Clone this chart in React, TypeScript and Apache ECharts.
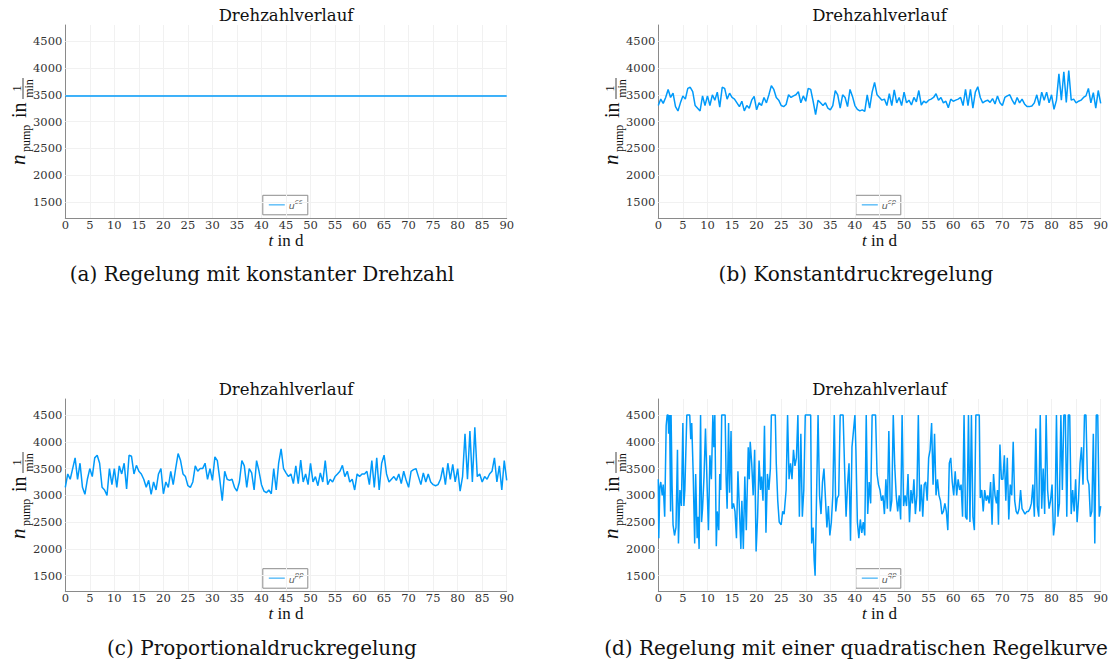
import React, { useEffect, useRef } from "react";
import * as echarts from "echarts";

// ---------- data ----------
const xTicks = [0, 5, 10, 15, 20, 25, 30, 35, 40, 45, 50, 55, 60, 65, 70, 75, 80, 85, 90];
const yTicks = [1500, 2000, 2500, 3000, 3500, 4000, 4500];
const chartTitle = "Drehzahlverlauf";
const captions = [
  "(a) Regelung mit konstanter Drehzahl",
  "(b) Konstantdruckregelung",
  "(c) Proportionaldruckregelung",
  "(d) Regelung mit einer quadratischen Regelkurve",
];
const legendSup = ["cs", "cp", "pp", "qp"];

// (a) constant speed
const tA = [0, 90];
const uA = [3478, 3478];

// (b) and (c): sampled every half day from t = 0 to t = 90
const tStepBC = 0.5;
const uB = [
  3300, 3420, 3340, 3450, 3600, 3450, 3530, 3280, 3200, 3350, 3480, 3420, 3620, 3640, 3560, 3300, 3250, 3200, 3480, 3300,
  3480, 3300, 3500, 3400, 3550, 3270, 3640, 3620, 3420, 3530, 3450, 3420, 3350, 3280, 3380, 3200, 3300, 3250, 3400, 3470,
  3220, 3350, 3300, 3450, 3350, 3500, 3670, 3600, 3450, 3400, 3300, 3280, 3320, 3500, 3450, 3480, 3500, 3560, 3350, 3480,
  3380, 3620, 3600, 3380, 3130, 3400, 3350, 3300, 3350, 3250, 3220, 3300, 3580, 3500, 3250, 3500, 3450, 3280, 3600, 3470,
  3300, 3230, 3200, 3220, 3190, 3500, 3250, 3550, 3730, 3500, 3450, 3400, 3420, 3300, 3520, 3300, 3590, 3350, 3450, 3300,
  3550, 3350, 3400, 3310, 3450, 3370, 3580, 3310, 3380, 3350, 3400, 3420, 3450, 3520, 3400, 3450, 3350, 3380, 3260, 3420,
  3380, 3400, 3420, 3450, 3300, 3600, 3300, 3600, 3250, 3550, 3650, 3450, 3350, 3380, 3400, 3360, 3430, 3330, 3480, 3350,
  3300, 3450, 3480, 3500, 3400, 3320, 3450, 3350, 3420, 3330, 3280, 3280, 3290, 3350, 3500, 3300, 3550, 3400, 3550, 3350,
  3500, 3230, 3400, 3890, 3400, 3930, 3360, 3950, 3400, 3420, 3350, 3380, 3400, 3450, 3480, 3620, 3350, 3540, 3250, 3580,
  3340,
];
const uC = [
  3150, 3400, 3300, 3500, 3700, 3300, 3600, 3150, 3020, 3300, 3500, 3350, 3700, 3750, 3600, 3150, 3100, 3000, 3500, 3200,
  3500, 3150, 3550, 3400, 3600, 3120, 3750, 3730, 3400, 3560, 3450, 3400, 3300, 3150, 3280, 3020, 3250, 3100, 3400, 3500,
  3030, 3250, 3150, 3450, 3200, 3500, 3780, 3650, 3400, 3350, 3180, 3150, 3250, 3550, 3450, 3500, 3500, 3600, 3300, 3500,
  3280, 3720, 3650, 3300, 2900, 3450, 3300, 3280, 3300, 3150, 3080, 3250, 3650, 3550, 3150, 3500, 3420, 3100, 3650, 3450,
  3200, 3080, 3050, 3100, 3030, 3500, 3100, 3600, 3870, 3500, 3420, 3350, 3400, 3220, 3550, 3220, 3660, 3250, 3400, 3200,
  3600, 3250, 3350, 3180, 3420, 3250, 3650, 3200, 3300, 3250, 3350, 3400, 3450, 3560, 3350, 3450, 3250, 3300, 3100, 3400,
  3350, 3400, 3400, 3450, 3200, 3650, 3150, 3700, 3100, 3600, 3750, 3400, 3250, 3300, 3350, 3280, 3400, 3220, 3450, 3280,
  3150, 3450, 3480, 3500, 3350, 3200, 3420, 3250, 3400, 3250, 3200, 3180, 3200, 3300, 3520, 3200, 3600, 3300, 3580, 3250,
  3500, 3080, 3350, 4150, 3300, 4200, 3250, 4270, 3350, 3400, 3250, 3350, 3300, 3400, 3450, 3700, 3250, 3550, 3100, 3650,
  3280,
];

// (d) quadratic control curve
const tD = [
  0, 0.1, 0.3, 0.5, 0.8, 1.0, 1.3, 1.6, 1.8, 2.0, 2.1, 2.3, 2.5, 2.6, 2.8, 3.0, 3.3, 3.6, 3.9, 4.1,
  4.4, 4.7, 5.0, 5.2, 5.4, 5.6, 5.8, 6.4, 6.6, 6.8, 7.1, 7.4, 7.6, 7.9, 8.1, 8.3, 8.6, 8.8, 9.0, 9.3,
  9.6, 9.8, 10.0, 10.2, 10.5, 10.8, 11.1, 11.3, 11.5, 11.8, 12.0, 12.3, 12.5, 12.7, 12.9, 13.6, 13.8, 14.0, 14.3, 14.5,
  14.8, 15.0, 15.3, 15.6, 15.9, 16.2, 16.5, 16.8, 17.0, 17.3, 17.6, 17.9, 18.3, 18.5, 18.7, 19.0, 19.3, 19.6, 19.9, 20.2,
  20.5, 20.8, 21.0, 21.3, 21.6, 21.9, 22.2, 22.5, 22.8, 23.0, 23.8, 24.0, 24.3, 24.6, 25.0, 25.3, 25.6, 26.0, 26.3, 26.6,
  26.9, 27.2, 27.5, 27.8, 28.1, 28.4, 28.7, 29.0, 29.3, 29.6, 29.9, 31.0, 31.2, 31.5, 31.7, 31.9, 32.1, 32.5, 32.8, 33.1,
  33.4, 33.7, 34.0, 34.3, 34.6, 34.9, 35.2, 35.5, 35.8, 36.1, 36.4, 36.7, 37.0, 37.6, 37.9, 38.2, 38.5, 38.8, 39.1, 39.4,
  39.7, 40.0, 40.2, 40.5, 40.8, 41.1, 41.4, 41.7, 42.0, 42.3, 42.6, 42.9, 43.2, 43.5, 44.2, 44.5, 44.8, 45.1, 45.4, 45.7,
  46.0, 46.3, 46.6, 46.9, 47.2, 47.5, 47.8, 48.1, 48.4, 48.7, 49.0, 49.3, 49.6, 49.9, 50.2, 50.5, 50.8, 51.1, 51.4, 51.7,
  52.0, 52.3, 52.6, 52.9, 53.2, 53.5, 53.8, 54.1, 54.4, 54.7, 55.0, 55.3, 55.6, 55.9, 56.2, 56.5, 56.8, 57.1, 57.4, 57.7,
  58.0, 58.3, 58.6, 58.9, 59.2, 59.5, 59.8, 60.1, 60.4, 60.7, 61.0, 61.3, 61.6, 61.9, 62.2, 62.5, 62.8, 63.1, 63.4, 63.7,
  64.0, 64.3, 64.6, 65.3, 65.5, 65.8, 66.1, 66.4, 66.7, 67.0, 67.3, 67.6, 67.9, 68.2, 68.5, 68.8, 69.0, 69.2, 69.5, 69.8,
  70.1, 70.4, 70.7, 71.0, 71.3, 71.6, 71.9, 72.2, 72.5, 72.8, 73.1, 73.4, 73.7, 74.0, 74.3, 74.6, 75.0, 75.3, 75.6, 75.9,
  76.2, 76.5, 76.8, 77.1, 77.4, 77.7, 78.0, 78.3, 78.6, 78.9, 79.2, 79.5, 79.8, 80.1, 80.4, 80.7, 81.0, 81.3, 81.6, 81.9,
  82.2, 82.5, 82.8, 83.1, 83.4, 83.7, 84.0, 84.3, 84.6, 84.9, 85.2, 85.5, 85.8, 86.1, 86.4, 86.7, 87.0, 87.3, 87.6, 87.9,
  88.2, 88.5, 88.8, 89.1, 89.4, 89.7, 90.0,
];
const uD = [
  3300, 2200, 3150, 3250, 3000, 3200, 2600, 4300, 4500, 4500, 4150, 4500, 2700, 4500, 3200, 2450, 2250, 2400, 3850, 2100,
  3100, 2800, 4350, 2800, 3100, 3800, 4500, 4500, 4050, 4350, 3400, 2100, 3400, 2200, 2600, 2000, 4500, 2500, 2750, 3350,
  4250, 3600, 2950, 2350, 3750, 3300, 4500, 3900, 4500, 2050, 2700, 2350, 3400, 3100, 4500, 4500, 3300, 2750, 4350, 3050,
  4200, 2750, 2850, 2700, 2200, 3450, 2750, 2000, 2900, 2000, 3350, 2350, 3900, 3300, 4000, 3600, 3000, 3850, 1950, 2600,
  3650, 3100, 3350, 2900, 4300, 2300, 3400, 3100, 3500, 4500, 4500, 3600, 2900, 2500, 2450, 2700, 2650, 3100, 4500, 3300,
  3600, 3300, 3850, 3550, 3700, 4500, 2600, 4150, 2600, 3100, 4500, 4500, 2100, 2400, 1800, 1500, 2500, 4500, 3000, 2650,
  3250, 3500, 2950, 2400, 2800, 2250, 2500, 3000, 4500, 2700, 2950, 3000, 4500, 4500, 3500, 2600, 3200, 3600, 2150, 3900,
  4200, 4500, 3850, 2500, 2200, 2550, 2300, 2500, 2250, 4500, 2650, 3250, 2850, 4500, 4500, 3400, 3200, 3100, 2900, 3000,
  2650, 3300, 2750, 4200, 2700, 2900, 4500, 3550, 3000, 2700, 3000, 2550, 4500, 2800, 3000, 2800, 3400, 2500, 3100, 2850,
  3300, 2650, 3000, 4500, 2700, 3200, 2600, 3200, 3250, 2900, 3700, 3850, 4350, 3200, 4150, 3000, 3300, 3000, 2900, 2650,
  2700, 2850, 2700, 2350, 3600, 3700, 3250, 3000, 3450, 3000, 3300, 3100, 3200, 2600, 4500, 2600, 2550, 4500, 2500, 4500,
  2600, 2350, 4500, 4500, 2950, 3100, 2700, 3100, 2900, 3000, 2850, 3250, 2450, 3400, 3000, 2850, 3100, 2450, 3950, 3300,
  3300, 3750, 2900, 3700, 2550, 3200, 3000, 4000, 2900, 2700, 2650, 2750, 3100, 2750, 2700, 2650, 2700, 2700, 2750, 2850,
  3200, 2600, 4250, 2800, 2600, 4500, 2750, 3500, 2650, 4500, 3100, 2750, 2900, 3200, 2250, 2500, 4500, 2600, 2850, 4500,
  3100, 4500, 4500, 2600, 4500, 4500, 2650, 3100, 2700, 3300, 2500, 2950, 3600, 3900, 3200, 4500, 4500, 3300, 3200, 2600,
  2700, 4150, 2100, 4500, 4500, 2600, 2800,
];

// ---------- layout / style ----------
const LINE_COLOR = "#009AFA";
const GRID_COLOR = "#f1f1f1";
const AXIS_COLOR = "#8a8a8a";
const TICK_FONT = "DejaVu Serif";
const MATH_FONT = "Liberation Serif";

const panels = [
  { left: 65.3, top: 25, width: 441.4, height: 193.3 },
  { left: 658.3, top: 25, width: 442.4, height: 193.3 },
  { left: 65.3, top: 399, width: 441.4, height: 192.7 },
  { left: 658.3, top: 399, width: 442.4, height: 192.7 },
];

function yLabel(px: number, py: number): any {
  // px: baseline screen x, py: start screen y (bottom end of the rotated label)
  return {
    type: "group",
    x: px,
    y: py,
    rotation: Math.PI / 2,
    silent: true,
    children: [
      { type: "text", x: 0, y: -7, style: { text: "n", font: `italic 21px "${MATH_FONT}"`, fill: "#111", align: "left", verticalAlign: "middle" } },
      { type: "text", x: 13, y: 1, style: { text: "pump", font: `12px "${MATH_FONT}"`, fill: "#111", align: "left", verticalAlign: "middle" } },
      { type: "text", x: 47, y: -6.5, style: { text: "in", font: `20px "${MATH_FONT}"`, fill: "#111", align: "left", verticalAlign: "middle" } },
      { type: "text", x: 76.5, y: -8.5, style: { text: "1", font: `12px "${MATH_FONT}"`, fill: "#111", align: "center", verticalAlign: "middle" } },
      { type: "line", shape: { x1: 66, y1: -2, x2: 87, y2: -2 }, style: { stroke: "#111", lineWidth: 0.8 } },
      { type: "text", x: 76.5, y: 4, style: { text: "min", font: `12px "${MATH_FONT}"`, fill: "#111", align: "center", verticalAlign: "middle" } },
    ],
  };
}

function buildOption(): any {
  const seriesData = [
    tA.map((t, i) => [t, uA[i]]),
    uB.map((v, i) => [i * tStepBC, v]),
    uC.map((v, i) => [i * tStepBC, v]),
    tD.map((t, i) => [t, uD[i]]),
  ];

  const graphic: any[] = [];
  panels.forEach((p, k) => {
    const cx = p.left + p.width / 2;
    const bottom = p.top + p.height;
    // title
    graphic.push({
      type: "text",
      x: cx,
      y: p.top - 9.5,
      silent: true,
      style: { text: chartTitle, font: `16.5px "${TICK_FONT}"`, fill: "#111", align: "center", verticalAlign: "middle" },
    });
    // x axis label
    graphic.push({
      type: "text",
      x: cx,
      y: bottom + 22,
      silent: true,
      style: {
        text: "{i|t} in d",
        font: `17px "${MATH_FONT}"`,
        fill: "#111",
        align: "center",
        verticalAlign: "middle",
        rich: { i: { fontStyle: "italic", fontFamily: MATH_FONT, fontSize: 17, fill: "#111" } },
      },
    });
    // y axis label
    graphic.push(yLabel(p.left - 40.3, p.top + 140));
    // legend
    const lx = p.left + 197.5;
    const ly = bottom - 23;
    graphic.push({
      type: "group",
      silent: true,
      children: [
        { type: "rect", shape: { x: lx, y: ly, width: 45, height: 19.5 }, style: { fill: "#fff", stroke: "#8c8c8c", lineWidth: 1 } },
        { type: "line", shape: { x1: lx + 6, y1: ly + 9.5, x2: lx + 22, y2: ly + 9.5 }, style: { stroke: "#6cc3f8", lineWidth: 1.6 } },
        { type: "text", x: lx + 26, y: ly + 10.5, style: { text: "u", font: `italic 9.5px "DejaVu Sans"`, fill: "#555", align: "left", verticalAlign: "middle" } },
        { type: "text", x: lx + 32, y: ly + 6.5, style: { text: legendSup[k], font: `italic 7px "DejaVu Sans"`, fill: "#555", align: "left", verticalAlign: "middle" } },
      ],
    });
    // caption
    graphic.push({
      type: "text",
      x: k % 2 === 0 ? 262 : 856,
      y: k < 2 ? 274 : 648,
      silent: true,
      style: { text: captions[k], font: `20px "${TICK_FONT}"`, fill: "#111", align: "center", verticalAlign: "middle" },
    });
  });

  return {
    animation: false,
    backgroundColor: "#ffffff",
    grid: panels.map((p) => ({ left: p.left, top: p.top, width: p.width, height: p.height, containLabel: false })),
    xAxis: panels.map((_, k) => ({
      type: "value",
      gridIndex: k,
      min: 0,
      max: 90,
      interval: 5,
      axisLine: { show: true, onZero: false, lineStyle: { color: AXIS_COLOR, width: 1 } },
      axisTick: { show: false },
      axisLabel: { fontFamily: TICK_FONT, fontSize: 11.5, color: "#333", margin: 0.5, showMinLabel: true, showMaxLabel: true },
      splitLine: { show: true, lineStyle: { color: GRID_COLOR, width: 1 } },
    })),
    yAxis: panels.map((_, k) => ({
      type: "value",
      gridIndex: k,
      min: 1200,
      max: 4800,
      interval: 100,
      axisLine: { show: true, onZero: false, lineStyle: { color: AXIS_COLOR, width: 1 } },
      axisTick: { show: false },
      axisLabel: {
        fontFamily: TICK_FONT,
        fontSize: 11.5,
        color: "#333",
        margin: 3,
        formatter: (v: number) => (yTicks.indexOf(Math.round(v)) >= 0 ? String(Math.round(v)) : ""),
      },
      splitLine: { show: false },
    })),
    series: panels.map((_, k) => ({
      type: "line",
      xAxisIndex: k,
      yAxisIndex: k,
      data: seriesData[k],
      showSymbol: false,
      symbol: "none",
      lineStyle: { color: LINE_COLOR, width: 1.5 },
      itemStyle: { color: LINE_COLOR },
      z: 3,
      markLine: {
        silent: true,
        symbol: "none",
        label: { show: false },
        lineStyle: { color: GRID_COLOR, width: 1, type: "solid" },
        emphasis: { disabled: true },
        data: yTicks.map((v) => ({ yAxis: v })),
        z: 1,
      },
    })),
    graphic,
  };
}

export default function App() {
  const ref = useRef<HTMLDivElement>(null);
  useEffect(() => {
    if (!ref.current) return;
    const chart = echarts.init(ref.current, undefined, { renderer: "svg" });
    chart.setOption(buildOption());
    return () => chart.dispose();
  }, []);
  return (
    <div
      ref={ref}
      style={{ position: "absolute", left: 0, top: 0, width: 1114, height: 664, background: "#fff" }}
    />
  );
}
